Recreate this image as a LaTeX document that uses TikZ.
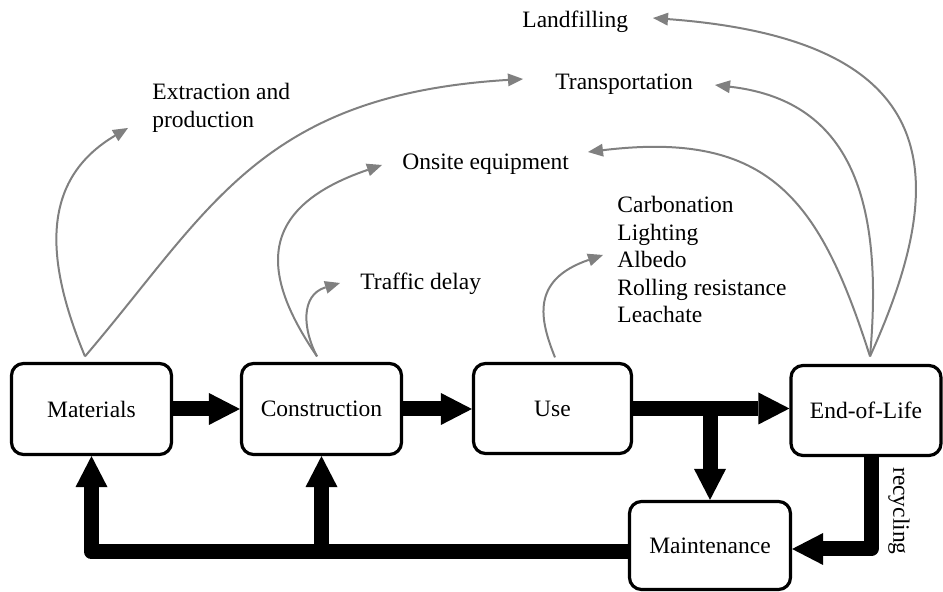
\documentclass[tikz,border=0pt]{standalone}
\usepackage{fontspec}
\setmainfont{Liberation Serif}
\usetikzlibrary{arrows.meta}
\begin{document}
\begin{tikzpicture}[x=0.5pt,y=-0.5pt,
  font=\fontsize{11.75}{14}\selectfont,
  box/.style={draw, line width=1.6pt, rounded corners=6pt, inner sep=0pt, align=center},
  flow/.style={line width=7.5pt, -{Triangle[length=15.5pt,width=16pt,line width=0pt]}},
  effect/.style={draw=gray, line width=1pt, -{Triangle[length=7.5pt,width=6.5pt,line width=0pt]}},
  lbl/.style={inner sep=0pt, anchor=base west, align=left}]
\useasboundingbox (0,0) rectangle (943,592);

% boxes
\node[box, minimum width=80pt, minimum height=45.5pt] (mat) at (91.5,409) {Materials};
\node[box, minimum width=80pt, minimum height=45.5pt] (con) at (321.5,409) {Construction};
\node[box, minimum width=79pt, minimum height=45pt] (use) at (552.5,408.5) {Use};
\node[box, minimum width=75pt, minimum height=45pt] (eol) at (866,410.5) {End-of-Life};
\node[box, minimum width=80.5pt, minimum height=44pt] (mnt) at (710,545.5) {Maintenance};

% labels (base anchor = baseline of the last line)
\node[lbl] (ext) at (152,128) {Extraction and\\production};
\node[lbl] (trn) at (555,90) {Transportation};
\node[lbl] (lnd) at (522,28) {Landfilling};
\node[lbl] (ons) at (402,170) {Onsite equipment};
\node[lbl] (trf) at (360,290) {Traffic delay};
\node[lbl, font=\fontsize{11.75}{13.75}\selectfont] (usex) at (617,323) {Carbonation\\Lighting\\Albedo\\Rolling resistance\\Leachate};
\node[rotate=-90, inner sep=0pt] (rec) at (899,511) {recycling};

% main flows
\draw[flow] (mat) -- (con);
\draw[flow] (con.east) -- (con.east -| use.west);
\draw[flow] (use.east) -- (use.east -| eol.west);
\draw[flow] (use.east -| mnt.north) -- (mnt.north);
\draw[flow, line join=round] ([xshift=2.5pt]eol.south) |- ([yshift=-1.75pt]mnt.east);
\coordinate (bl) at (93,552);
\draw[flow, line join=round] (mnt.west |- bl) -| (mat.south);
\draw[flow] (con.south |- bl) -- (con.south);

% effect origins and targets
\coordinate (m0) at ([xshift=-3.25pt,yshift=2.75pt]mat.north);
\coordinate (c0) at ([xshift=-2.25pt,yshift=2.75pt]con.north);
\coordinate (u0) at ([xshift=1.25pt,yshift=2.25pt]use.north);
\coordinate (e0) at ([xshift=2pt,yshift=3.75pt]eol.north);
\coordinate (tExt) at (128,128);
\coordinate (tTrnA) at (523,79);
\coordinate (tOns) at (382,165);
\coordinate (tTrf) at (340,283);
\coordinate (tUse) at (603,255);
\coordinate (tLnd) at (653,18);
\coordinate (tTrnB) at (715,85);
\coordinate (tOnsB) at (588,152);

\draw[effect] (m0) .. controls (45,260) and (40,180) .. (tExt);
\draw[effect] (m0) .. controls (210,210) and (260,95) .. (tTrnA);
\draw[effect] (c0) .. controls (265,280) and (250,210) .. (tOns);
\draw[effect] (c0) .. controls (303,330) and (300,295) .. (tTrf);
\draw[effect] (u0) .. controls (540,320) and (530,280) .. (tUse);
\draw[effect] (e0) .. controls (950,180) and (950,40) .. (tLnd);
\draw[effect] (e0) .. controls (885,190) and (845,100) .. (tTrnB);
\draw[effect] (e0) .. controls (820,200) and (770,130) .. (tOnsB);
\end{tikzpicture}
\end{document}
